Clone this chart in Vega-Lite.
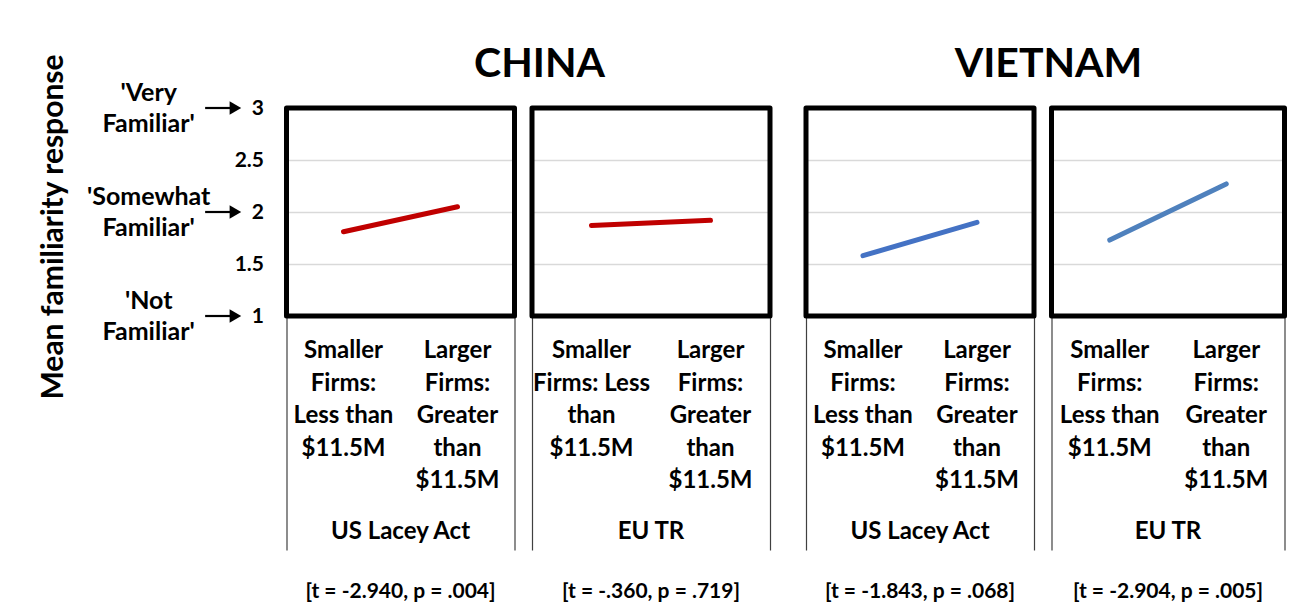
{
 "$schema": "https://vega.github.io/schema/vega-lite/v6.json",
 "padding": {"left": 37, "top": 43, "right": 5, "bottom": 5},
 "background": "white",
 "config": {
   "font": "Lato",
   "view": {"stroke": null},
   "axis": {"labelFont": "Lato", "titleFont": "Lato"},
   "title": {"font": "Lato", "fontSize": 41, "fontWeight": "bold", "color": "#000", "anchor": "middle", "frame": "group", "offset": 20}
 },
 "datasets": {
   "scores": [
     {"country": "China", "law": "US Lacey Act", "size": "Smaller", "label": "Smaller\nFirms:\nLess than\n$11.5M", "value": 1.81, "stat": "[t = -2.940, p = .004]"},
     {"country": "China", "law": "US Lacey Act", "size": "Larger", "label": "Larger\nFirms:\nGreater\nthan\n$11.5M", "value": 2.05, "stat": "[t = -2.940, p = .004]"},
     {"country": "China", "law": "EU TR", "size": "Smaller", "label": "Smaller\nFirms: Less\nthan\n$11.5M", "value": 1.87, "stat": "[t = -.360, p = .719]"},
     {"country": "China", "law": "EU TR", "size": "Larger", "label": "Larger\nFirms:\nGreater\nthan\n$11.5M", "value": 1.92, "stat": "[t = -.360, p = .719]"},
     {"country": "Vietnam", "law": "US Lacey Act", "size": "Smaller", "label": "Smaller\nFirms:\nLess than\n$11.5M", "value": 1.58, "stat": "[t = -1.843, p = .068]"},
     {"country": "Vietnam", "law": "US Lacey Act", "size": "Larger", "label": "Larger\nFirms:\nGreater\nthan\n$11.5M", "value": 1.90, "stat": "[t = -1.843, p = .068]"},
     {"country": "Vietnam", "law": "EU TR", "size": "Smaller", "label": "Smaller\nFirms:\nLess than\n$11.5M", "value": 1.73, "stat": "[t = -2.904, p = .005]"},
     {"country": "Vietnam", "law": "EU TR", "size": "Larger", "label": "Larger\nFirms:\nGreater\nthan\n$11.5M", "value": 2.27, "stat": "[t = -2.904, p = .005]"}
   ],
   "levels": [
     {"level": 3, "label": "'Very\nFamiliar'"},
     {"level": 2, "label": "'Somewhat\nFamiliar'"},
     {"level": 1, "label": "'Not\nFamiliar'"}
   ]
 },
 "spacing": 17.5,
 "bounds": "flush",
 "hconcat": [
  {
   "width": 178.5, "height": 237,
   "data": {"name": "levels"},
   "layer": [
    {"mark": {"type": "text", "fontSize": 25, "fontWeight": "bold", "lineBreak": "\n", "lineHeight": 31, "baseline": "middle", "align": "center", "color": "#000", "dy": -15},
     "encoding": {
       "x": {"datum": 0.3287, "type": "quantitative", "scale": {"domain": [0, 1]}, "axis": null},
       "y": {"field": "level", "type": "quantitative", "scale": {"domain": [0.7212, 3], "nice": false, "zero": false},
             "axis": {"title": "Mean familiarity response", "titleFontSize": 30, "titleFontWeight": "bold", "titleColor": "#000", "labels": false, "ticks": false, "domain": false, "grid": false, "titlePadding": 22}},
       "text": {"field": "label"}}},
    {"mark": {"type": "rule", "strokeWidth": 2.2, "color": "#000"},
     "encoding": {"x": {"datum": 0.645, "type": "quantitative"}, "x2": {"datum": 0.8}, "y": {"field": "level", "type": "quantitative"}}},
    {"mark": {"type": "point", "shape": "triangle-right", "filled": true, "size": 180, "color": "#000", "opacity": 1},
     "encoding": {"x": {"datum": 0.8146, "type": "quantitative"}, "y": {"field": "level", "type": "quantitative"}}}
   ]
  },
  {
   "width": 228, "height": 442,
   "data": {"name": "scores"},
   "transform": [{"filter": "datum.country === 'China' && datum.law === 'US Lacey Act'"}],
   "resolve": {"axis": {"y": "independent"}},
   "layer": [
    {"mark": {"type": "line", "strokeWidth": 5, "strokeCap": "round", "color": "#c00000"},
     "encoding": {
       "x": {"field": "size", "type": "nominal", "sort": ["Smaller", "Larger"], "scale": {"type": "point", "padding": 0.5}, "axis": null},
       "y": {"field": "value", "type": "quantitative", "scale": {"domain": [-1.25, 3], "nice": false, "zero": false},
             "axis": {"values": [1, 1.5, 2, 2.5, 3], "format": ".2~g", "grid": true, "gridColor": "#d9d9d9", "gridWidth": 1.5, "domain": true, "domainColor": "#404040", "domainWidth": 1.2, "ticks": false, "tickSize": 0, "labelPadding": 23, "labelFontSize": 21, "labelFontWeight": "bold", "labelColor": "#000", "title": null}}}},
    {"transform": [{"filter": "datum.size === 'Smaller'"}],
     "mark": {"type": "rect", "fill": null, "stroke": "#000", "strokeWidth": 5, "strokeJoin": "round"},
     "encoding": {"y": {"datum": 1, "type": "quantitative", "axis": null}, "y2": {"datum": 3}}},
    {"mark": {"type": "text", "fontSize": 24, "fontWeight": "bold", "lineBreak": "\n", "lineHeight": 32.5, "baseline": "top", "align": "center", "color": "#000"},
     "encoding": {
       "x": {"field": "size", "type": "nominal", "sort": ["Smaller", "Larger"], "axis": null},
       "y": {"datum": 0.775, "type": "quantitative", "axis": null},
       "text": {"field": "label"}}},
    {"transform": [{"filter": "datum.size === 'Smaller'"}],
     "mark": {"type": "text", "fontSize": 24, "fontWeight": "bold", "baseline": "alphabetic", "align": "center", "color": "#000"},
     "encoding": {
       "y": {"datum": -1.149, "type": "quantitative", "axis": {"orient": "right", "labels": false, "ticks": false, "grid": false, "domain": true, "domainColor": "#404040", "domainWidth": 1.2, "title": null}},
       "text": {"field": "law"}}},
    {"transform": [{"filter": "datum.size === 'Smaller'"}],
     "mark": {"type": "text", "fontSize": 21, "fontWeight": "bold", "baseline": "alphabetic", "align": "center", "color": "#000"},
     "encoding": {
       "y": {"datum": -1.716, "type": "quantitative", "axis": null},
       "text": {"field": "stat"}}}
   ]
  },
  {
   "width": 238, "height": 442,
   "title": {"text": "CHINA", "dx": -111.5},
   "data": {"name": "scores"},
   "transform": [{"filter": "datum.country === 'China' && datum.law === 'EU TR'"}],
   "resolve": {"axis": {"y": "independent"}},
   "layer": [
    {"mark": {"type": "line", "strokeWidth": 5, "strokeCap": "round", "color": "#c00000"},
     "encoding": {
       "x": {"field": "size", "type": "nominal", "sort": ["Smaller", "Larger"], "scale": {"type": "point", "padding": 0.5}, "axis": null},
       "y": {"field": "value", "type": "quantitative", "scale": {"domain": [-1.25, 3], "nice": false, "zero": false},
             "axis": {"values": [1, 1.5, 2, 2.5, 3], "grid": true, "gridColor": "#d9d9d9", "gridWidth": 1.5, "domain": true, "domainColor": "#404040", "domainWidth": 1.2, "ticks": false, "labels": false, "title": null}}}},
    {"transform": [{"filter": "datum.size === 'Smaller'"}],
     "mark": {"type": "rect", "fill": null, "stroke": "#000", "strokeWidth": 5, "strokeJoin": "round"},
     "encoding": {"y": {"datum": 1, "type": "quantitative", "axis": null}, "y2": {"datum": 3}}},
    {"mark": {"type": "text", "fontSize": 24, "fontWeight": "bold", "lineBreak": "\n", "lineHeight": 32.5, "baseline": "top", "align": "center", "color": "#000"},
     "encoding": {
       "x": {"field": "size", "type": "nominal", "sort": ["Smaller", "Larger"], "axis": null},
       "y": {"datum": 0.775, "type": "quantitative", "axis": null},
       "text": {"field": "label"}}},
    {"transform": [{"filter": "datum.size === 'Smaller'"}],
     "mark": {"type": "text", "fontSize": 24, "fontWeight": "bold", "baseline": "alphabetic", "align": "center", "color": "#000"},
     "encoding": {
       "y": {"datum": -1.149, "type": "quantitative", "axis": {"orient": "right", "labels": false, "ticks": false, "grid": false, "domain": true, "domainColor": "#404040", "domainWidth": 1.2, "title": null}},
       "text": {"field": "law"}}},
    {"transform": [{"filter": "datum.size === 'Smaller'"}],
     "mark": {"type": "text", "fontSize": 21, "fontWeight": "bold", "baseline": "alphabetic", "align": "center", "color": "#000"},
     "encoding": {
       "y": {"datum": -1.716, "type": "quantitative", "axis": null},
       "text": {"field": "stat"}}}
   ]
  },
  {
   "width": 1, "height": 442,
   "data": {"values": [{}]},
   "mark": {"type": "point", "opacity": 0},
   "encoding": {}
  },
  {
   "width": 228, "height": 442,
   "data": {"name": "scores"},
   "transform": [{"filter": "datum.country === 'Vietnam' && datum.law === 'US Lacey Act'"}],
   "resolve": {"axis": {"y": "independent"}},
   "layer": [
    {"mark": {"type": "line", "strokeWidth": 5, "strokeCap": "round", "color": "#4472c4"},
     "encoding": {
       "x": {"field": "size", "type": "nominal", "sort": ["Smaller", "Larger"], "scale": {"type": "point", "padding": 0.5}, "axis": null},
       "y": {"field": "value", "type": "quantitative", "scale": {"domain": [-1.25, 3], "nice": false, "zero": false},
             "axis": {"values": [1, 1.5, 2, 2.5, 3], "grid": true, "gridColor": "#d9d9d9", "gridWidth": 1.5, "domain": true, "domainColor": "#404040", "domainWidth": 1.2, "ticks": false, "labels": false, "title": null}}}},
    {"transform": [{"filter": "datum.size === 'Smaller'"}],
     "mark": {"type": "rect", "fill": null, "stroke": "#000", "strokeWidth": 5, "strokeJoin": "round"},
     "encoding": {"y": {"datum": 1, "type": "quantitative", "axis": null}, "y2": {"datum": 3}}},
    {"mark": {"type": "text", "fontSize": 24, "fontWeight": "bold", "lineBreak": "\n", "lineHeight": 32.5, "baseline": "top", "align": "center", "color": "#000"},
     "encoding": {
       "x": {"field": "size", "type": "nominal", "sort": ["Smaller", "Larger"], "axis": null},
       "y": {"datum": 0.775, "type": "quantitative", "axis": null},
       "text": {"field": "label"}}},
    {"transform": [{"filter": "datum.size === 'Smaller'"}],
     "mark": {"type": "text", "fontSize": 24, "fontWeight": "bold", "baseline": "alphabetic", "align": "center", "color": "#000"},
     "encoding": {
       "y": {"datum": -1.149, "type": "quantitative", "axis": {"orient": "right", "labels": false, "ticks": false, "grid": false, "domain": true, "domainColor": "#404040", "domainWidth": 1.2, "title": null}},
       "text": {"field": "law"}}},
    {"transform": [{"filter": "datum.size === 'Smaller'"}],
     "mark": {"type": "text", "fontSize": 21, "fontWeight": "bold", "baseline": "alphabetic", "align": "center", "color": "#000"},
     "encoding": {
       "y": {"datum": -1.716, "type": "quantitative", "axis": null},
       "text": {"field": "stat"}}}
   ]
  },
  {
   "width": 233, "height": 442,
   "title": {"text": "VIETNAM", "dx": -119.5},
   "data": {"name": "scores"},
   "transform": [{"filter": "datum.country === 'Vietnam' && datum.law === 'EU TR'"}],
   "resolve": {"axis": {"y": "independent"}},
   "layer": [
    {"mark": {"type": "line", "strokeWidth": 5, "strokeCap": "round", "color": "#4f81bd"},
     "encoding": {
       "x": {"field": "size", "type": "nominal", "sort": ["Smaller", "Larger"], "scale": {"type": "point", "padding": 0.5}, "axis": null},
       "y": {"field": "value", "type": "quantitative", "scale": {"domain": [-1.25, 3], "nice": false, "zero": false},
             "axis": {"values": [1, 1.5, 2, 2.5, 3], "grid": true, "gridColor": "#d9d9d9", "gridWidth": 1.5, "domain": true, "domainColor": "#404040", "domainWidth": 1.2, "ticks": false, "labels": false, "title": null}}}},
    {"transform": [{"filter": "datum.size === 'Smaller'"}],
     "mark": {"type": "rect", "fill": null, "stroke": "#000", "strokeWidth": 5, "strokeJoin": "round"},
     "encoding": {"y": {"datum": 1, "type": "quantitative", "axis": null}, "y2": {"datum": 3}}},
    {"mark": {"type": "text", "fontSize": 24, "fontWeight": "bold", "lineBreak": "\n", "lineHeight": 32.5, "baseline": "top", "align": "center", "color": "#000"},
     "encoding": {
       "x": {"field": "size", "type": "nominal", "sort": ["Smaller", "Larger"], "axis": null},
       "y": {"datum": 0.775, "type": "quantitative", "axis": null},
       "text": {"field": "label"}}},
    {"transform": [{"filter": "datum.size === 'Smaller'"}],
     "mark": {"type": "text", "fontSize": 24, "fontWeight": "bold", "baseline": "alphabetic", "align": "center", "color": "#000"},
     "encoding": {
       "y": {"datum": -1.149, "type": "quantitative", "axis": {"orient": "right", "labels": false, "ticks": false, "grid": false, "domain": true, "domainColor": "#404040", "domainWidth": 1.2, "title": null}},
       "text": {"field": "law"}}},
    {"transform": [{"filter": "datum.size === 'Smaller'"}],
     "mark": {"type": "text", "fontSize": 21, "fontWeight": "bold", "baseline": "alphabetic", "align": "center", "color": "#000"},
     "encoding": {
       "y": {"datum": -1.716, "type": "quantitative", "axis": null},
       "text": {"field": "stat"}}}
   ]
  }
 ]
}
